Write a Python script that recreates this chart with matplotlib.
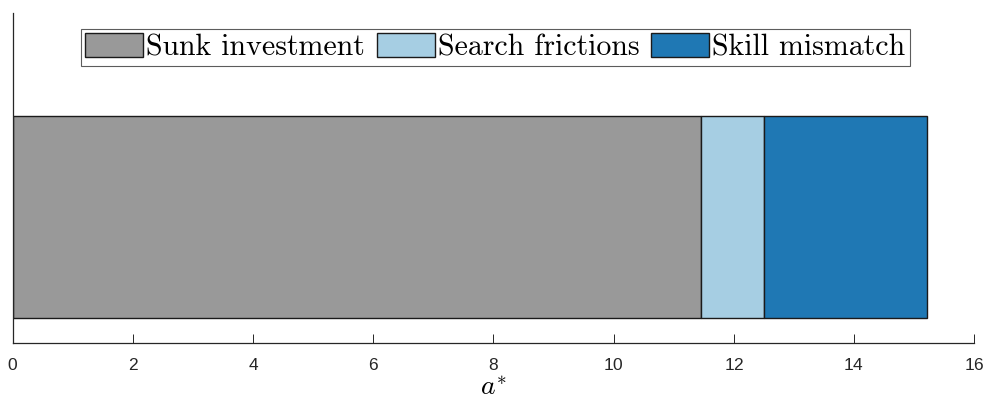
import matplotlib
matplotlib.use("Agg")
from matplotlib import pyplot as plt

plt.rcParams['axes.formatter.use_mathtext'] = True
plt.rcParams['mathtext.fontset'] = 'cm'

# stacked components of a*
labels = ["Sunk investment", "Search frictions", "Skill mismatch"]
values = [11.45, 1.06, 2.70]
colors = ["#999999", "#a6cee3", "#1f78b4"]
xticks = [0, 2, 4, 6, 8, 10, 12, 14, 16]

fig = plt.figure(figsize=(9.89, 4.03), dpi=100)
ax = fig.add_axes([0.0131, 0.149, 0.9717, 0.819])

left = 0
for lab, v, c in zip(labels, values, colors):
    ax.barh(1, v, left=left, height=0.8, color=c, edgecolor="#1a1a1a",
            linewidth=1.0, label=lab)
    left += v

ax.set_xlim(0, 16)
ax.set_ylim(0.5, 1.81)
ax.set_xticks(xticks)
ax.set_yticks([])
ax.spines['top'].set_visible(False)
ax.spines['right'].set_visible(False)
for s in ['left', 'bottom']:
    ax.spines[s].set_color("#262626")
    ax.spines[s].set_linewidth(0.9)
ax.tick_params(axis='x', direction='in', length=6.5, width=0.7,
               color="#262626", pad=10, labelsize=12.5)
for t in ax.get_xticklabels():
    t.set_family(['Liberation Sans Narrow', 'Liberation Sans'])
    t.set_color("#262626")
ax.set_xlabel(r"$a^{*}$", fontsize=20, labelpad=0)

leg = ax.legend(loc='upper center', ncol=3, bbox_to_anchor=(0.502, 0.952),
                prop={'family': 'cmr10', 'size': 21.5}, frameon=True, fancybox=False,
                edgecolor="#333333", borderpad=0.15, handlelength=1.94,
                handleheight=0.84, handletextpad=0.1, columnspacing=0.4,
                borderaxespad=0)
leg.get_frame().set_linewidth(0.8)

fig.savefig("out.png", dpi=100)
